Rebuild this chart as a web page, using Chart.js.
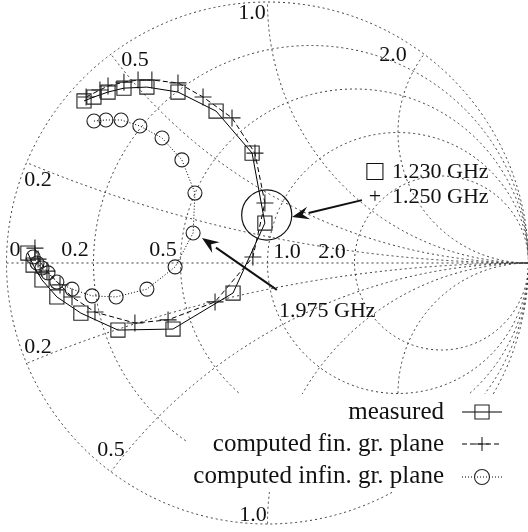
<!DOCTYPE html>
<html>
<head>
<meta charset="utf-8">
<script src="https://cdn.jsdelivr.net/npm/chart.js@4/dist/chart.umd.min.js"></script>
<style>
  html, body { margin: 0; padding: 0; background: #fff; }
  #wrap { width: 528px; height: 532px; position: relative; }
</style>
</head>
<body>
<div id="wrap"><canvas id="smith"></canvas></div>
<script>
// Reflection coefficient of the antenna input, real and imaginary parts.
const measuredRe = [-0.703, -0.665, -0.611, -0.550, -0.462, -0.343, -0.197, -0.059, -0.010,
                    -0.132, -0.362, -0.573, -0.715, -0.807, -0.864, -0.898, -0.918];
const measuredIm = [ 0.621,  0.636,  0.655,  0.670,  0.674,  0.655,  0.582,  0.421,  0.153,
                    -0.115, -0.253, -0.257, -0.192, -0.130, -0.065, -0.008,  0.038];

const finiteRe = [-0.695, -0.642, -0.611, -0.550, -0.496, -0.443, -0.343, -0.247, -0.136, -0.048,
                  -0.010, -0.056, -0.201, -0.381, -0.508, -0.661, -0.749, -0.795, -0.845, -0.879, -0.891];
const finiteIm = [ 0.636,  0.663,  0.678,  0.693,  0.701,  0.701,  0.690,  0.636,  0.556,  0.421,
                   0.230,  0.023, -0.149, -0.218, -0.230, -0.188, -0.130, -0.084, -0.031,  0.015,  0.057];

const infiniteRe = [-0.665, -0.619, -0.561, -0.489, -0.404, -0.328, -0.278, -0.285, -0.354,
                    -0.462, -0.580, -0.672, -0.749, -0.807, -0.841, -0.864, -0.883, -0.898];
const infiniteIm = [ 0.544,  0.548,  0.548,  0.525,  0.479,  0.395,  0.268,  0.115, -0.015,
                    -0.100, -0.130, -0.126, -0.100, -0.073, -0.038, -0.019,  0.000,  0.023];

const seriesNames = ['measured', 'computed fin. gr. plane', 'computed infin. gr. plane'];

// Smith chart grid values (normalised resistance and reactance)
const resistanceValues = [0, 0.2, 0.5, 1, 2];
const resistanceLabels = ['0', '0.2', '0.5', '1.0', '2.0'];
const reactanceValues = [1, 0.5, 2, 0.2, -0.2, -0.5, -1];
const reactanceLabels = ['1.0', '0.5', '2.0', '0.2', '0.2', '0.5', '1.0'];

// Frequency annotations
const markerFreqs = ['1.230 GHz', '1.250 GHz'];
const loopFreq = '1.975 GHz';

// ---- layout ----
const W = 528, H = 532;
const CX = 267.5, CY = 263, RAD = 261;          // pixel centre / radius of the unit circle
const FONT = '22px "Liberation Serif", "Times New Roman", serif';
const LEGEND_FONT = '25px "Liberation Serif", "Times New Roman", serif';
const INK = '#111';
const GRID = '#3a3a3a';

// label offsets (pixels) from the point where each grid line meets its axis / rim
const resistanceOffsets = [[8.5, -13], [-18.5, -13], [-17.5, -13], [19.5, -11], [-22.5, -11]];
const reactanceOffsets = [[-15.5, 11], [24, 6], [-31, 1], [11.5, 17.5], [11.5, -16.5], [0, -22], [-14.5, -9]];

const pts = (re, im) => re.map((v, i) => ({ x: v, y: im[i] }));

const smithGrid = {
  id: 'smithGrid',
  beforeDatasetsDraw(chart) {
    const { ctx, scales: { x, y } } = chart;
    const px = v => x.getPixelForValue(v);
    const py = v => y.getPixelForValue(v);
    const unit = px(1) - px(0);
    const ox = px(0), oy = py(0);

    ctx.save();
    ctx.strokeStyle = GRID;
    ctx.lineWidth = 1;
    ctx.setLineDash([2, 3]);

    // rim
    ctx.beginPath();
    ctx.arc(ox, oy, unit, 0, Math.PI * 2);
    ctx.stroke();

    ctx.save();
    ctx.beginPath();
    ctx.arc(ox, oy, unit, 0, Math.PI * 2);
    ctx.clip();

    // real axis
    ctx.beginPath();
    ctx.moveTo(px(-1), oy);
    ctx.lineTo(px(1), oy);
    ctx.stroke();

    // constant-resistance circles
    resistanceValues.forEach(r => {
      if (r === 0) return;
      ctx.beginPath();
      ctx.arc(px(r / (1 + r)), oy, unit / (1 + r), 0, Math.PI * 2);
      ctx.stroke();
    });

    // constant-reactance arcs
    [0.2, 0.5, 1, 2, -0.2, -0.5, -1, -2].forEach(xv => {
      ctx.beginPath();
      ctx.arc(px(1), py(1 / xv), unit / Math.abs(xv), 0, Math.PI * 2);
      ctx.stroke();
    });
    ctx.restore();

    // labels
    ctx.setLineDash([]);
    ctx.fillStyle = INK;
    ctx.font = FONT;
    ctx.textAlign = 'center';
    ctx.textBaseline = 'middle';
    resistanceValues.forEach((r, i) => {
      const g = (r - 1) / (r + 1);
      const [dx, dy] = resistanceOffsets[i];
      ctx.fillText(resistanceLabels[i], px(g) + dx, oy + dy);
    });
    reactanceValues.forEach((xv, i) => {
      const d = xv * xv + 1;
      const gr = (xv * xv - 1) / d, gi = 2 * xv / d;
      const [dx, dy] = reactanceOffsets[i];
      ctx.fillText(reactanceLabels[i], px(gr) + dx, py(gi) + dy);
    });
    ctx.restore();
  }
};

function arrow(ctx, x1, y1, x2, y2) {
  const a = Math.atan2(y2 - y1, x2 - x1);
  const L = 17, hw = 6.5;
  const bx = x2 - L * Math.cos(a), by = y2 - L * Math.sin(a);
  ctx.beginPath();
  ctx.moveTo(x1, y1);
  ctx.lineTo(bx, by);
  ctx.stroke();
  ctx.beginPath();
  ctx.moveTo(x2, y2);
  ctx.lineTo(bx + hw * Math.sin(a), by - hw * Math.cos(a));
  ctx.lineTo(bx + 0.35 * L * Math.cos(a), by + 0.35 * L * Math.sin(a));
  ctx.lineTo(bx - hw * Math.sin(a), by + hw * Math.cos(a));
  ctx.closePath();
  ctx.fill();
}

const overlay = {
  id: 'overlay',
  afterDatasetsDraw(chart) {
    const { ctx, scales: { x, y } } = chart;
    const px = v => x.getPixelForValue(v);
    const py = v => y.getPixelForValue(v);
    const unit = px(1) - px(0);
    ctx.save();
    ctx.strokeStyle = INK;
    ctx.fillStyle = INK;

    // ring around the resonance points
    ctx.lineWidth = 1.2;
    ctx.beginPath();
    ctx.arc(px(-0.003), py(0.184), 0.096 * unit, 0, Math.PI * 2);
    ctx.stroke();

    // pointers
    ctx.lineWidth = 2;
    arrow(ctx, px(0.362), py(0.241), px(0.094), py(0.176));
    arrow(ctx, px(0.036), py(-0.103), px(-0.251), py(0.096));

    ctx.font = FONT;
    ctx.textBaseline = 'alphabetic';
    ctx.textAlign = 'left';
    ctx.fillText(markerFreqs[0], 392, 178);
    ctx.fillText(markerFreqs[1], 392, 203);
    ctx.fillText(loopFreq, 279, 317);
    ctx.textAlign = 'center';
    ctx.fillText('+', 375, 203);
    ctx.font = '29px "Liberation Serif", "DejaVu Sans", serif';
    ctx.textBaseline = 'middle';
    ctx.fillText('\u25A1', 375, 172);

    // legend
    ctx.fillStyle = '#fff';
    ctx.fillRect(186, 394, W - 186, 98);
    ctx.font = LEGEND_FONT;
    ctx.textBaseline = 'alphabetic';
    const baselines = [419, 451, 483];
    const sampleY = [412, 444, 477];
    chart.data.datasets.forEach((ds, i) => {
      const yy = sampleY[i];
      ctx.fillStyle = INK;
      ctx.textAlign = 'right';
      ctx.fillText(seriesNames[i], 444, baselines[i]);
      ctx.strokeStyle = '#000';
      ctx.lineWidth = 1;
      ctx.setLineDash(ds.borderDash || []);
      ctx.beginPath();
      ctx.moveTo(462, yy);
      ctx.lineTo(502, yy);
      ctx.stroke();
      ctx.setLineDash([]);
      ctx.fillStyle = 'rgba(0,0,0,0)';
      ctx.strokeStyle = '#222';
      ctx.lineWidth = 1.1;
      Chart.helpers.drawPoint(ctx, {
        pointStyle: ds.pointStyle, radius: ds.legendRadius, borderWidth: 1.1, rotation: 0
      }, 482, yy);
    });
    ctx.restore();
  }
};

const common = {
  showLine: true,
  tension: 0,
  borderColor: '#000',
  borderWidth: 1,
  pointBackgroundColor: 'rgba(0,0,0,0)',
  pointBorderColor: '#222',
  pointBorderWidth: 1.1,
  pointHoverRadius: 0
};

new Chart(document.getElementById('smith'), {
  type: 'scatter',
  data: {
    datasets: [
      Object.assign({}, common, {
        label: seriesNames[0], data: pts(measuredRe, measuredIm),
        pointStyle: 'rect', pointRadius: 10, legendRadius: 10
      }),
      Object.assign({}, common, {
        label: seriesNames[1], data: pts(finiteRe, finiteIm),
        borderDash: [5, 3], pointStyle: 'cross', pointRadius: 8.5, legendRadius: 7
      }),
      Object.assign({}, common, {
        label: seriesNames[2], data: pts(infiniteRe, infiniteIm),
        borderDash: [1, 2], pointStyle: 'circle', pointRadius: 7, legendRadius: 7.5
      })
    ]
  },
  options: {
    responsive: true,
    maintainAspectRatio: false,
    animation: false,
    events: [],
    layout: { padding: 0, autoPadding: false },
    scales: {
      x: { type: 'linear', display: false, min: -CX / RAD, max: (W - CX) / RAD },
      y: { type: 'linear', display: false, min: (CY - H) / RAD, max: CY / RAD }
    },
    plugins: { legend: { display: false }, tooltip: { enabled: false } }
  },
  plugins: [smithGrid, overlay]
});
</script>
</body>
</html>
